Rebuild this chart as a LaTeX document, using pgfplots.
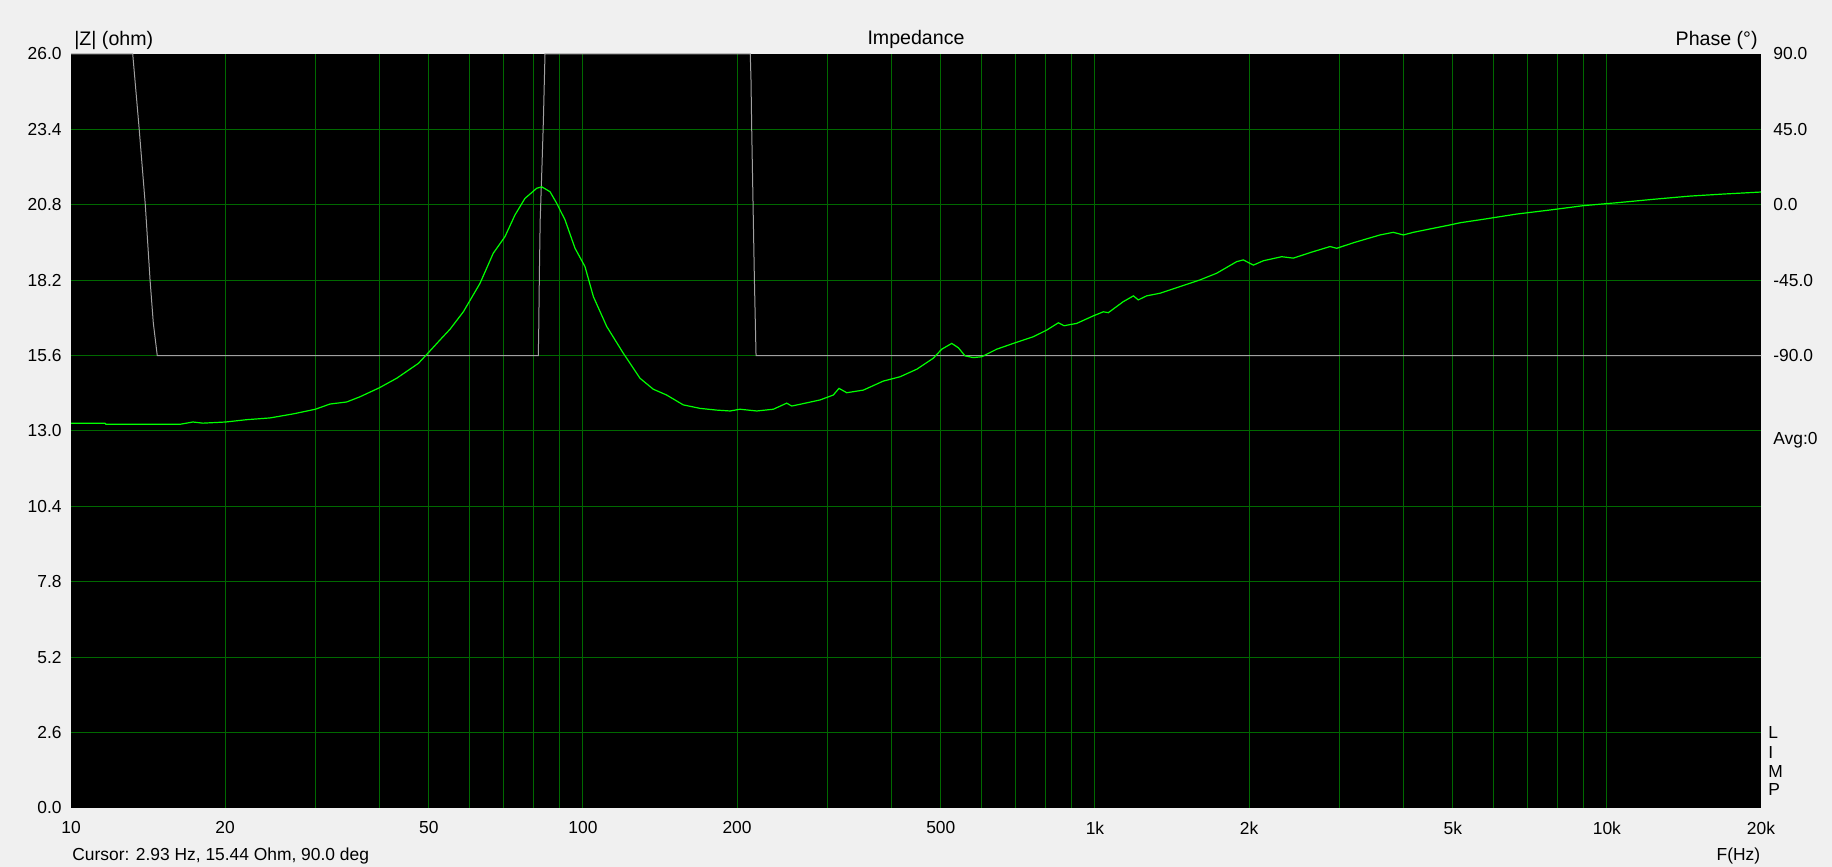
\documentclass[border=0pt]{standalone}
\usepackage{pgfplots}
\pgfplotsset{compat=1.18}
\usepackage{fontspec}
\setmainfont{Liberation Sans}
\definecolor{bgcol}{RGB}{240,240,240}
\definecolor{gridgreen}{RGB}{0,105,0}
\definecolor{zgreen}{RGB}{0,255,0}
\definecolor{phgrey}{RGB}{160,160,160}
\newcommand{\tickfont}{\fontsize{8.7}{10}\selectfont}
\newcommand{\titlefont}{\fontsize{9.8}{11}\selectfont}
\begin{document}
\begin{tikzpicture}
\fill[bgcol] (0,0) rectangle (916pt,433.5pt);
\useasboundingbox (0,0) rectangle (916pt,433.5pt);
% impedance axis with grid
\begin{axis}[
  xmode=log, xmin=10, xmax=20000,
  at={(35.5pt,29.5pt)}, anchor=south west,
  scale only axis, width=845pt, height=377pt,
  axis line style={draw=none},
  major tick length=0pt, minor tick length=0pt,
  ymin=0, ymax=26,
  axis background/.style={fill=black},
  xtick={10,20,50,100,200,500,1000,2000,5000,10000,20000},
  xticklabels={10,20,50,100,200,500,1k,2k,5k,10k,20k},
  minor xtick={20,30,40,50,60,70,80,90,100,200,300,400,500,600,700,800,900,1000,2000,3000,4000,5000,6000,7000,8000,9000,10000},
  ytick={0,2.6,5.2,7.8,10.4,13,15.6,18.2,20.8,23.4,26},
  yticklabels={0.0,2.6,5.2,7.8,10.4,13.0,15.6,18.2,20.8,23.4,26.0},
  minor ytick={2.6,5.2,7.8,10.4,13,15.6,18.2,20.8,23.4},
  xmajorgrids=false, ymajorgrids=false, xminorgrids=true, yminorgrids=true,
  minor grid style={gridgreen, line width=0.5pt},
  xticklabel style={anchor=center, yshift=-10pt, inner sep=0pt, font=\tickfont},
  yticklabel style={anchor=east, xshift=-4.5pt, inner sep=0pt, font=\tickfont},
]
\end{axis}
% phase axis
\begin{axis}[
  xmode=log, xmin=10, xmax=20000,
  at={(35.5pt,29.5pt)}, anchor=south west,
  scale only axis, width=845pt, height=377pt,
  axis line style={draw=none},
  major tick length=0pt, minor tick length=0pt,
  ymin=-360, ymax=90, clip=false,
  xtick=\empty,
  yticklabel pos=right,
  ytick={-90,-45,0,45,90},
  yticklabels={-90.0,-45.0,0.0,45.0,90.0},
  yticklabel style={anchor=west, xshift=6pt, inner sep=0pt, font=\tickfont},
]
\addplot[phgrey, line width=0.5pt] coordinates {
(10,90)(13.20,90)(13.59,45.1)(13.97,-0.3)(14.27,-44.9)(14.48,-70.5)(14.74,-90)
(81.8,-90)(81.97,-73.5)(82.2,-40.7)(82.5,-9.1)(83.2,24.9)(83.7,50.6)(84.3,90)
(212.2,90)(212.9,75.1)(213.6,45.2)(214.9,0)(216.2,-44.9)(217.8,-90)(20000,-90)
};
\end{axis}
% impedance curve
\begin{axis}[
  xmode=log, xmin=10, xmax=20000,
  at={(35.5pt,29.5pt)}, anchor=south west,
  scale only axis, width=845pt, height=377pt,
  ymin=0, ymax=26, hide axis]
\addplot[zgreen, line width=0.6pt] coordinates {
(10,13.27)(11.65,13.27)(11.70,13.23)(16.32,13.23)(17.31,13.31)(18.10,13.27)(20.05,13.31)
(22.04,13.39)(24.47,13.45)(27.18,13.59)(30.01,13.75)(32.06,13.93)(34.55,14.00)(36.69,14.18)
(40.02,14.49)(43.28,14.82)(47.69,15.33)(49.53,15.64)(52.58,16.14)(55.00,16.51)(58.39,17.11)
(62.93,18.09)(66.80,19.13)(70.41,19.70)(73.66,20.45)(77.04,21.02)(81.22,21.37)(83.07,21.42)
(86.23,21.25)(88.87,20.85)(92.24,20.28)(96.49,19.30)(100.9,18.67)(104.8,17.63)(111.3,16.60)
(119.9,15.68)(129.2,14.82)(137.2,14.44)(145.7,14.24)(157.0,13.90)(169.3,13.78)(182.5,13.72)
(193.8,13.69)(202.6,13.75)(218.5,13.69)(235.4,13.75)(250.0,13.96)(255.7,13.86)(265.4,13.92)
(290.4,14.07)(308.3,14.24)(316.3,14.47)(327.5,14.32)(352.9,14.41)(386.0,14.72)(416.3,14.87)
(448.7,15.13)(483.4,15.51)(502.0,15.82)(525.2,16.02)(541.0,15.87)(557.6,15.59)(578.9,15.53)
(600.9,15.56)(642.8,15.82)(692.7,16.02)(758.1,16.25)(805.1,16.48)(848.3,16.73)(870.3,16.63)
(921.3,16.71)(992.7,16.97)(1038.5,17.11)(1062,17.08)(1136,17.46)(1189,17.66)(1215,17.52)
(1262,17.66)(1340,17.75)(1466,17.98)(1604,18.21)(1729,18.44)(1892,18.84)(1949,18.90)
(2039,18.72)(2133,18.87)(2316,19.01)(2441,18.96)(2631,19.15)(2879,19.36)(2967,19.30)
(3197,19.49)(3605,19.76)(3826,19.85)(4003,19.76)(4187,19.85)(4581,19.99)(4923,20.10)
(5166,20.18)(5736,20.30)(6664,20.48)(7743,20.62)(8994,20.77)(10452,20.87)(12515,21.00)
(14535,21.10)(16883,21.17)(20000,21.24)
};
\end{axis}
% texts
\node[anchor=base west, inner sep=0pt, font=\titlefont] at (37pt,410.5pt) {|Z| (ohm)};
\node[anchor=base, inner sep=0pt, font=\titlefont] at (458pt,411pt) {Impedance};
\node[anchor=base east, inner sep=0pt, font=\titlefont] at (879pt,410.5pt) {Phase (°)};
\node[anchor=base west, inner sep=0pt, font=\tickfont] at (36pt,3pt) {Cursor: 2.93 Hz, 15.44 Ohm, 90.0 deg};
\node[anchor=base east, inner sep=0pt, font=\tickfont] at (880.3pt,3pt) {F(Hz)};
\node[anchor=west, inner sep=0pt, font=\tickfont] at (886.5pt,213.5pt) {Avg:0};
\node[anchor=west, inner sep=0pt, font=\tickfont] at (884pt,67pt) {L};
\node[anchor=west, inner sep=0pt, font=\tickfont] at (884pt,57pt) {I};
\node[anchor=west, inner sep=0pt, font=\tickfont] at (884pt,47.5pt) {M};
\node[anchor=west, inner sep=0pt, font=\tickfont] at (884pt,38.5pt) {P};
\end{tikzpicture}
\end{document}
